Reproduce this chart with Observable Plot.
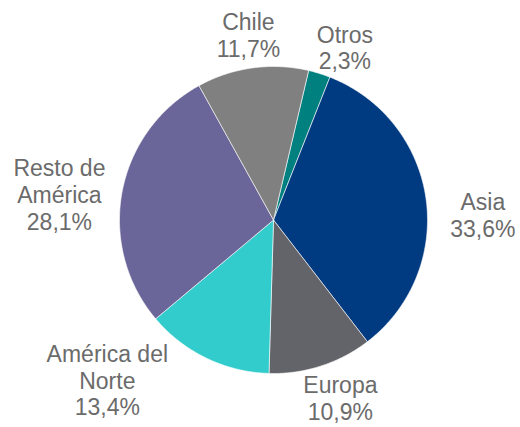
<!DOCTYPE html>
<html>
<head>
<meta charset="utf-8">
<script src="https://cdn.jsdelivr.net/npm/d3@7"></script>
<script src="https://cdn.jsdelivr.net/npm/@observablehq/plot@0.6"></script>
<style>
  html, body { margin: 0; padding: 0; background: #ffffff; }
  #chart { width: 520px; height: 427px; }
</style>
</head>
<body>
<div id="chart"></div>
<script>
// Data (clockwise from just right of 12 o'clock)
const categories = ["Otros", "Asia", "Europa", "América del Norte", "Resto de América", "Chile"];
const labelNames = ["Otros", "Asia", "Europa", "América del\nNorte", "Resto de\nAmérica", "Chile"];
const shares = [2.3, 33.6, 10.9, 13.4, 28.1, 11.7];
const shareLabels = ["2,3%", "33,6%", "10,9%", "13,4%", "28,1%", "11,7%"];

// Styles
const sliceColors = ["#00807F", "#003A80", "#636469", "#33CCCC", "#6A6699", "#808080"];
const startDeg = 13.2;
// label placement (polar: degrees clockwise from top, radius in pie radii)
const labelAngle = [22.4, 88.6, 159.5, 226, 276.8, 352.3];
const labelRadius = [1.216, 1.36, 1.24, 1.5, 1.4, 1.216];

const rad = Math.PI / 180;
const pie = d3.pie().sort(null).value(d => d.value)
  .startAngle(startDeg * rad).endAngle(startDeg * rad + 2 * Math.PI);
const arcs = pie(categories.map((c, i) => ({name: c, value: shares[i]})));

const pts = [];
arcs.forEach(a => {
  const name = a.data.name;
  pts.push({name, x: 0, y: 0});
  const n = Math.max(2, Math.ceil((a.endAngle - a.startAngle) / (0.4 * rad)));
  for (let k = 0; k <= n; k++) {
    const t = a.startAngle + (a.endAngle - a.startAngle) * k / n;
    pts.push({name, x: Math.sin(t), y: Math.cos(t)});
  }
  pts.push({name, x: 0, y: 0});
});

const labels = categories.map((c, i) => ({
  name: c,
  text: labelNames[i] + "\n" + shareLabels[i],
  x: labelRadius[i] * Math.sin(labelAngle[i] * rad),
  y: labelRadius[i] * Math.cos(labelAngle[i] * rad)
}));

const chart = Plot.plot({
  width: 520,
  height: 427,
  marginLeft: 119,
  marginRight: 93,
  marginTop: 66,
  marginBottom: 54,
  x: {domain: [-1, 1], axis: null},
  y: {domain: [-1, 1], axis: null},
  color: {domain: categories, range: sliceColors},
  style: {fontFamily: "Arial, 'Liberation Sans', sans-serif", background: "#ffffff", overflow: "visible"},
  marks: [
    Plot.line(pts, {x: "x", y: "y", z: "name", fill: "name", stroke: "#ffffff", strokeWidth: 0.6, curve: "linear"}),
    Plot.text(labels, {x: "x", y: "y", text: "text", fontSize: 23, lineHeight: 1.17, fill: "#6b6b6b", textAnchor: "middle", lineAnchor: "middle"})
  ]
});
document.getElementById("chart").appendChild(chart);
</script>
</body>
</html>
